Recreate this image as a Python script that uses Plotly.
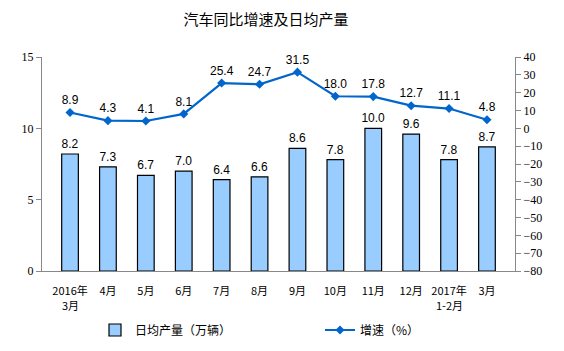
import plotly.graph_objects as go

categories = ["2016年3月", "4月", "5月", "6月", "7月", "8月", "9月", "10月", "11月", "12月", "2017年1-2月", "3月"]
tick_line1 = ["2016年", "4月", "5月", "6月", "7月", "8月", "9月", "10月", "11月", "12月", "2017年", "3月"]
tick_line2 = ["3月", "", "", "", "", "", "", "", "", "", "1-2月", ""]
daily_output = [8.2, 7.3, 6.7, 7.0, 6.4, 6.6, 8.6, 7.8, 10.0, 9.6, 7.8, 8.7]
growth = [8.9, 4.3, 4.1, 8.1, 25.4, 24.7, 31.5, 18.0, 17.8, 12.7, 11.1, 4.8]

cjk = "Noto Sans CJK SC"
fig = go.Figure()
fig.add_trace(go.Bar(
    x=categories, y=daily_output, name="日均产量（万辆）",
    marker=dict(color="#99CCFF", line=dict(color="#000000", width=1.2)),
    width=0.44,
    text=[f"{v:.1f}" for v in daily_output], textposition="outside",
    constraintext="none",
    textfont=dict(family="Liberation Sans", size=12, color="#000000"),
    cliponaxis=False, legend="legend",
))
fig.add_trace(go.Scatter(
    x=categories, y=growth, name="增速（%）", yaxis="y2",
    mode="lines+markers+text",
    line=dict(color="#0066CC", width=2.2),
    marker=dict(symbol="diamond", size=7, color="#0066CC"),
    text=[f"{v:.1f}" for v in growth], textposition="top center",
    textfont=dict(family="Liberation Sans", size=12, color="#000000"),
    cliponaxis=False, legend="legend2",
))

for cat, sub in zip(categories, tick_line2):
    if sub:
        fig.add_annotation(x=cat, xref="x", y=0, yref="paper", yanchor="top", yshift=-24,
                           text=sub, showarrow=False,
                           font=dict(family=cjk, size=11, color="#000000"))

legend_common = dict(orientation="h", xref="container", yref="container",
                     xanchor="left", yanchor="middle",
                     font=dict(family=cjk, size=12, color="#000000"))

fig.update_layout(
    width=564, height=351,
    margin=dict(l=42, r=49, t=57, b=80),
    paper_bgcolor="white", plot_bgcolor="white",
    title=dict(text="汽车同比增速及日均产量", x=266/564, xanchor="center", y=1-20/351, yanchor="middle",
               font=dict(family=cjk, size=15, color="#000000")),
    showlegend=True,
    legend=dict(x=95/564, y=1-330/351, **legend_common),
    legend2=dict(x=320/564, y=1-330/351, **legend_common),
    bargap=0.5,
    xaxis=dict(showline=True, linecolor="#888888", linewidth=1, ticks="outside", ticklen=10,
               tickcolor="rgba(0,0,0,0)", tickmode="array", tickvals=categories, ticktext=tick_line1,
               tickfont=dict(family=cjk, size=11, color="#000000"), showgrid=False),
    yaxis=dict(range=[0, 15], dtick=5, showline=True, linecolor="#888888", ticks="outside",
               ticklen=5, tickcolor="#888888", showgrid=False, zeroline=False,
               tickfont=dict(family="Liberation Serif", size=12, color="#000000")),
    yaxis2=dict(range=[-80, 40], dtick=10, overlaying="y", side="right", showline=True,
                linecolor="#888888", ticks="outside", ticklen=5, tickcolor="#888888",
                showgrid=False, zeroline=False,
                tickfont=dict(family="Liberation Serif", size=12, color="#000000")),
)

fig.write_html("out.html")
